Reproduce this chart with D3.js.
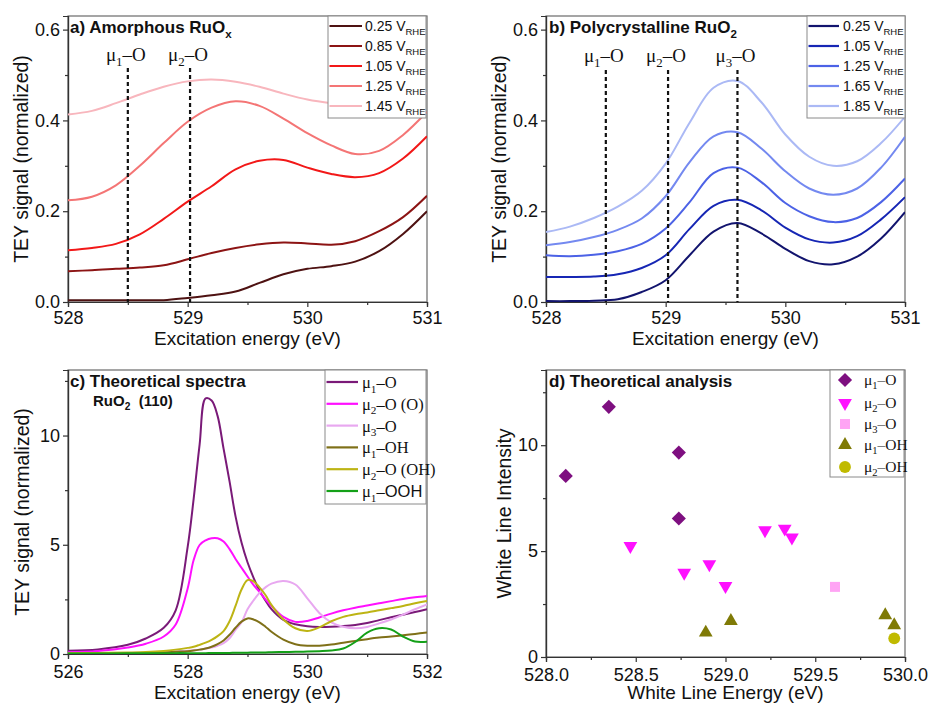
<!DOCTYPE html>
<html><head><meta charset="utf-8">
<script src="https://cdn.jsdelivr.net/npm/d3@7"></script>
<style>body{margin:0;background:#fff}svg{display:block}</style>
</head><body>
<svg id="chart" width="928" height="704"></svg>
<script>
// ---------- DATA ----------
const expEnergy = [528.0,528.2,528.4,528.6,528.8,529.0,529.2,529.4,529.6,529.8,530.0,530.2,530.4,530.6,530.8,531.0];
const amorphLabels = ["0.25","0.85","1.05","1.25","1.45"];
const amorph025 = [0.004,0.004,0.004,0.004,0.004,0.009,0.015,0.023,0.042,0.061,0.073,0.079,0.089,0.112,0.150,0.200];
const amorph085 = [0.068,0.070,0.073,0.076,0.081,0.094,0.108,0.119,0.127,0.131,0.129,0.126,0.134,0.156,0.187,0.234];
const amorph105 = [0.114,0.119,0.128,0.149,0.183,0.221,0.255,0.292,0.311,0.313,0.296,0.282,0.275,0.284,0.316,0.365];
const amorph125 = [0.224,0.232,0.257,0.300,0.350,0.397,0.428,0.442,0.432,0.404,0.372,0.345,0.326,0.333,0.368,0.419];
const amorph145 = [0.413,0.421,0.438,0.457,0.474,0.486,0.490,0.485,0.474,0.459,0.446,0.438,0.433,0.432,0.440,0.460];

const polyLabels = ["0.25","1.05","1.25","1.65","1.85"];
const poly025 = [0.002,0.002,0.003,0.006,0.022,0.048,0.103,0.155,0.174,0.151,0.117,0.090,0.083,0.100,0.140,0.198];
const poly105 = [0.055,0.055,0.056,0.061,0.075,0.103,0.161,0.212,0.225,0.202,0.164,0.138,0.131,0.145,0.182,0.231];
const poly125 = [0.103,0.101,0.104,0.112,0.128,0.162,0.220,0.284,0.296,0.264,0.218,0.189,0.176,0.185,0.220,0.272];
const poly165 = [0.125,0.132,0.143,0.159,0.184,0.233,0.308,0.365,0.374,0.338,0.288,0.250,0.236,0.250,0.296,0.364];
const poly185 = [0.154,0.166,0.185,0.210,0.245,0.305,0.395,0.472,0.487,0.440,0.369,0.320,0.300,0.310,0.350,0.408];

const markerA = [528.5, 529.02];
const markerB = [528.5, 529.02, 529.6];

const theoEnergy = [526,526.5,527,527.3,527.6,527.8,528.0,528.1,528.2,528.3,528.4,528.5,528.6,528.7,528.8,528.9,529.0,529.1,529.2,529.3,529.4,529.6,529.8,530.0,530.2,530.4,530.6,530.8,531.0,531.2,531.4,531.6,531.8,532];
const theoMu1O   = [0.15,0.21,0.42,0.71,1.2,2.0,4.9,7.1,9.6,11.7,11.6,10.9,9.4,7.9,6.3,5.1,4.2,3.5,2.9,2.45,2.05,1.56,1.36,1.27,1.24,1.25,1.28,1.33,1.42,1.55,1.68,1.8,1.92,2.05];
const theoMu2O_O = [0.08,0.14,0.3,0.47,0.8,1.35,3.0,4.3,4.99,5.2,5.3,5.3,5.15,4.8,4.35,3.95,3.55,3.16,2.85,2.5,2.2,1.7,1.47,1.51,1.67,1.85,2.0,2.12,2.22,2.32,2.42,2.52,2.6,2.66];
const theoMu3O   = [0.02,0.03,0.05,0.06,0.09,0.12,0.15,0.17,0.2,0.25,0.3,0.38,0.5,0.72,1.1,1.45,2.05,2.45,2.8,3.05,3.22,3.34,3.18,2.55,1.88,1.45,1.25,1.18,1.24,1.4,1.58,1.8,2.05,2.27];
const theoMu1OH  = [0.02,0.03,0.04,0.05,0.07,0.1,0.13,0.16,0.2,0.25,0.33,0.45,0.62,0.88,1.2,1.48,1.63,1.58,1.45,1.25,1.02,0.66,0.45,0.38,0.38,0.43,0.52,0.6,0.68,0.75,0.8,0.86,0.92,0.98];
const theoMu2O_OH= [0.03,0.05,0.07,0.09,0.14,0.2,0.28,0.33,0.42,0.52,0.65,0.82,1.05,1.5,2.2,2.95,3.38,3.33,3.05,2.7,2.25,1.58,1.18,1.05,1.22,1.5,1.7,1.82,1.9,2.0,2.1,2.2,2.32,2.43];
const theoMu1OOH = [0.02,0.02,0.03,0.03,0.03,0.04,0.04,0.04,0.04,0.04,0.05,0.05,0.05,0.05,0.06,0.06,0.06,0.07,0.07,0.07,0.08,0.09,0.1,0.11,0.13,0.16,0.25,0.55,0.98,1.18,1.12,0.8,0.57,0.56];

const mu1O_E  = [528.11,528.35,528.74,528.74];
const mu1O_I  = [8.55,11.81,9.65,6.54];
const mu2O_E  = [528.47,528.77,528.91,529.0,529.22,529.33,529.37];
const mu2O_I  = [5.24,3.98,4.38,3.35,5.98,6.06,5.64];
const mu3O_E  = [529.61];
const mu3O_I  = [3.31];
const mu1OH_E = [528.89,529.03,529.89,529.94];
const mu1OH_I = [1.15,1.7,1.97,1.5];
const mu2OH_E = [529.94];
const mu2OH_I = [0.88];

// ---------- HELPERS ----------
const svg = d3.select("#chart");
const SANS = "Liberation Sans, Arial, sans-serif";
const SERIF = "Liberation Serif, Times New Roman, serif";

function richText(sel, parts, size) {
  let shifted = false;
  parts.forEach(p => {
    const t = sel.append("tspan").text(p[0]);
    if (p[2]) t.attr("font-family", p[2]);
    if (p[1] === "sub") {
      t.attr("font-size", size * 0.68).attr("dy", shifted ? 0 : size * 0.28);
      shifted = true;
    } else {
      if (shifted) { t.attr("dy", -size * 0.28); shifted = false; }
    }
  });
}

function panel(opts) {
  const g = svg.append("g");
  const x = d3.scaleLinear().domain(opts.xDomain).range([opts.left, opts.right]);
  const y = d3.scaleLinear().domain(opts.yDomain).range([opts.bottom, opts.top]);
  g.append("rect").attr("x", opts.left).attr("y", opts.top)
    .attr("width", opts.right - opts.left).attr("height", opts.bottom - opts.top)
    .attr("fill", "none").attr("stroke", "#6a6a6a").attr("stroke-width", 1.2);
  const xa = g.append("g").attr("transform", `translate(0,${opts.bottom})`)
    .call(d3.axisBottom(x).tickValues(opts.xTicks).tickFormat(opts.xFmt).tickSize(5).tickPadding(opts.xPad));
  const xm = g.append("g").attr("transform", `translate(0,${opts.bottom})`)
    .call(d3.axisBottom(x).tickValues(opts.xMinor).tickFormat("").tickSize(3));
  const ya = g.append("g").attr("transform", `translate(${opts.left},0)`)
    .call(d3.axisLeft(y).tickValues(opts.yTicks).tickFormat(opts.yFmt).tickSize(5).tickPadding(3));
  const ym = g.append("g").attr("transform", `translate(${opts.left},0)`)
    .call(d3.axisLeft(y).tickValues(opts.yMinor).tickFormat("").tickSize(3));
  [xa, xm, ya, ym].forEach(a => {
    a.select(".domain").attr("stroke", "#333").attr("stroke-width", 1.2);
    a.selectAll(".tick line").attr("stroke", "#333").attr("stroke-width", 1.2);
    a.selectAll(".tick text").attr("font-family", SANS).attr("font-size", 18).attr("fill", "#111");
  });
  g.append("text").attr("x", (opts.left + opts.right) / 2).attr("y", opts.xTitleY)
    .attr("text-anchor", "middle").attr("font-family", SANS).attr("font-size", 19).attr("fill", "#111")
    .text(opts.xTitle);
  g.append("text").attr("transform", `translate(${opts.yTitleX},${(opts.top + opts.bottom) / 2}) rotate(-90)`)
    .attr("text-anchor", "middle").attr("font-family", SANS).attr("font-size", 19.5).attr("fill", "#111")
    .text(opts.yTitle);
  const clipId = "clip" + Math.round(opts.left) + "_" + Math.round(opts.top);
  g.append("clipPath").attr("id", clipId).append("rect")
    .attr("x", opts.left).attr("y", opts.top).attr("width", opts.right - opts.left).attr("height", opts.bottom - opts.top);
  const plot = g.append("g").attr("clip-path", `url(#${clipId})`);
  return {g, x, y, plot};
}

function drawLines(P, energy, series, width) {
  const line = d3.line().x((d, i) => P.x(energy[i])).y(d => P.y(d)).curve(d3.curveCatmullRom.alpha(0.5));
  series.forEach(s => {
    P.plot.append("path").datum(s.values).attr("d", line)
      .attr("fill", "none").attr("stroke", s.color).attr("stroke-width", width);
  });
}

function title(P, x, y, parts) {
  const t = P.g.append("text").attr("x", x).attr("y", y)
    .attr("font-family", SANS).attr("font-size", 17).attr("font-weight", "bold").attr("fill", "#111");
  richText(t, parts, 17);
}

function dashMarkers(P, energies, labels, topY, labelY) {
  energies.forEach((e, i) => {
    P.plot.append("line").attr("x1", P.x(e)).attr("x2", P.x(e)).attr("y1", topY).attr("y2", P.y(0))
      .attr("stroke", "#111").attr("stroke-width", 2.2).attr("stroke-dasharray", "4,3");
    const t = P.g.append("text").attr("x", P.x(e) - 2).attr("y", labelY).attr("text-anchor", "middle")
      .attr("font-family", SERIF).attr("font-size", 19).attr("fill", "#111");
    richText(t, [["μ"], [labels[i], "sub"], ["–O"]], 19);
  });
}

function lineLegend(P, box, rows, textX, font, fsize) {
  P.g.append("rect").attr("x", box[0]).attr("y", box[1]).attr("width", box[2] - box[0]).attr("height", box[3] - box[1])
    .attr("fill", "#fff").attr("stroke", "#8a8a8a").attr("stroke-width", 1);
  rows.forEach(r => {
    P.g.append("line").attr("x1", box[0] + 1.5).attr("x2", box[4]).attr("y1", r.y).attr("y2", r.y)
      .attr("stroke", r.color).attr("stroke-width", 2.2);
    const t = P.g.append("text").attr("x", textX).attr("y", r.y + fsize * 0.36)
      .attr("font-family", font).attr("font-size", fsize).attr("fill", "#111");
    richText(t, r.parts, fsize);
  });
}

// ---------- PANEL A ----------
const yTicksExp = [0, 0.2, 0.4, 0.6], yMinorExp = [0.1, 0.3, 0.5];
const PA = panel({left: 68, right: 427, top: 16, bottom: 302, xDomain: [528, 531], yDomain: [0, 0.63],
  xTicks: [528, 529, 530, 531], xMinor: [528.5, 529.5, 530.5], xFmt: d3.format("d"), xPad: 4,
  yTicks: yTicksExp, yMinor: yMinorExp, yFmt: d3.format(".1f"),
  xTitle: "Excitation energy (eV)", xTitleY: 345, yTitle: "TEY signal (normalized)", yTitleX: 28});
const amorphColors = ["#4e1212", "#8c1414", "#f21818", "#f47575", "#f8b6bd"];
const amorphSeries = [amorph025, amorph085, amorph105, amorph125, amorph145];
drawLines(PA, expEnergy, amorphSeries.map((v, i) => ({values: v, color: amorphColors[i]})), 2);
dashMarkers(PA, markerA, ["1", "2"], 68, 61);
title(PA, 70, 33, [["a) Amorphous RuO"], ["x", "sub"]]);
lineLegend(PA, [328, 16, 426, 118, 362], amorphLabels.map((l, i) => ({y: 26 + 20 * i, color: amorphColors[i],
  parts: [[l + " V"], ["RHE", "sub"]]})), 365, SANS, 14);

// ---------- PANEL B ----------
const PB = panel({left: 546, right: 905, top: 16, bottom: 302, xDomain: [528, 531], yDomain: [0, 0.63],
  xTicks: [528, 529, 530, 531], xMinor: [528.5, 529.5, 530.5], xFmt: d3.format("d"), xPad: 4,
  yTicks: yTicksExp, yMinor: yMinorExp, yFmt: d3.format(".1f"),
  xTitle: "Excitation energy (eV)", xTitleY: 345, yTitle: "TEY signal (normalized)", yTitleX: 506});
const polyColors = ["#12146e", "#1626b4", "#4c62e6", "#7489f0", "#abb9f5"];
const polySeries = [poly025, poly105, poly125, poly165, poly185];
drawLines(PB, expEnergy, polySeries.map((v, i) => ({values: v, color: polyColors[i]})), 2);
dashMarkers(PB, markerB, ["1", "2", "3"], 70, 62);
title(PB, 549, 33, [["b) Polycrystalline RuO"], ["2", "sub"]]);
lineLegend(PB, [807, 16, 905, 118, 839], polyLabels.map((l, i) => ({y: 26 + 20 * i, color: polyColors[i],
  parts: [[l + " V"], ["RHE", "sub"]]})), 843, SANS, 14);

// ---------- PANEL C ----------
const PC = panel({left: 68, right: 427, top: 370, bottom: 654, xDomain: [526, 532], yDomain: [0, 13],
  xTicks: [526, 528, 530, 532], xMinor: [527, 529, 531], xFmt: d3.format("d"), xPad: 6,
  yTicks: [0, 5, 10], yMinor: [2.5, 7.5, 12.5], yFmt: d3.format("d"),
  xTitle: "Excitation energy (eV)", xTitleY: 699, yTitle: "TEY signal (normalized)", yTitleX: 29});
const theoColors = ["#7a1a78", "#ff10ff", "#e8a8f0", "#7f7018", "#bdb414", "#14a018"];
const theoSeries = [theoMu1O, theoMu2O_O, theoMu3O, theoMu1OH, theoMu2O_OH, theoMu1OOH];
drawLines(PC, theoEnergy, theoSeries.map((v, i) => ({values: v, color: theoColors[i]})), 2);
title(PC, 70, 387, [["c) Theoretical spectra"]]);
{
  const t = PC.g.append("text").attr("x", 93).attr("y", 406).attr("font-family", SANS)
    .attr("font-size", 15).attr("font-weight", "bold").attr("fill", "#111");
  richText(t, [["RuO"], ["2", "sub"], ["\u00a0 (110)"]], 15);
}
const theoLegend = [
  [["μ"], ["1", "sub"], ["–O"]],
  [["μ"], ["2", "sub"], ["–O (O)"]],
  [["μ"], ["3", "sub"], ["–O"]],
  [["μ"], ["1", "sub"], ["–OH"]],
  [["μ"], ["2", "sub"], ["–O (OH)"]],
  [["μ"], ["1", "sub"], ["–"], ["OOH", null, SANS]]
];
lineLegend(PC, [325, 370, 426, 504, 358], theoLegend.map((p, i) => ({y: 382 + 21.8 * i, color: theoColors[i], parts: p})),
  362, SERIF, 16.5);

// ---------- PANEL D ----------
const PD = panel({left: 546, right: 905, top: 370, bottom: 657, xDomain: [528, 530], yDomain: [0, 13.55],
  xTicks: [528, 528.5, 529, 529.5, 530], xMinor: [528.25, 528.75, 529.25, 529.75], xFmt: d3.format(".1f"), xPad: 6,
  yTicks: [0, 5, 10], yMinor: [2.5, 7.5, 12.5], yFmt: d3.format("d"),
  xTitle: "White Line Energy (eV)", xTitleY: 699, yTitle: "White Line Intensity", yTitleX: 511});
const scatterGroups = [
  {E: mu1O_E, I: mu1O_I, color: "#7e0f80", type: d3.symbolSquare, size: 100, rot: 45, label: [["μ"], ["1", "sub"], ["–O"]]},
  {E: mu2O_E, I: mu2O_I, color: "#ff10ff", type: d3.symbolTriangle, size: 82, rot: 180, label: [["μ"], ["2", "sub"], ["–O"]]},
  {E: mu3O_E, I: mu3O_I, color: "#ffa4f4", type: d3.symbolSquare, size: 100, rot: 0, label: [["μ"], ["3", "sub"], ["–O"]]},
  {E: mu1OH_E, I: mu1OH_I, color: "#7f7a06", type: d3.symbolTriangle, size: 82, rot: 0, label: [["μ"], ["1", "sub"], ["–OH"]]},
  {E: mu2OH_E, I: mu2OH_I, color: "#c0ba00", type: d3.symbolCircle, size: 110, rot: 0, label: [["μ"], ["2", "sub"], ["–OH"]]}
];
scatterGroups.forEach(gp => {
  PD.plot.selectAll(null).data(gp.E).join("path")
    .attr("d", d3.symbol().type(gp.type).size(gp.size))
    .attr("transform", (d, i) => `translate(${PD.x(d)},${PD.y(gp.I[i])}) rotate(${gp.rot})`)
    .attr("fill", gp.color);
});
title(PD, 549, 387, [["d) Theoretical analysis"]]);
PD.g.append("rect").attr("x", 830).attr("y", 370).attr("width", 74).attr("height", 107)
  .attr("fill", "#fff").attr("stroke", "#8a8a8a").attr("stroke-width", 1);
scatterGroups.forEach((gp, i) => {
  const yy = [380, 403, 424, 445, 467][i];
  PD.g.append("path").attr("d", d3.symbol().type(gp.type).size(gp.size))
    .attr("transform", `translate(845,${yy}) rotate(${gp.rot})`).attr("fill", gp.color);
  const t = PD.g.append("text").attr("x", 864).attr("y", yy + 5).attr("font-family", SERIF)
    .attr("font-size", 15.5).attr("fill", "#111");
  richText(t, gp.label, 15.5);
});
</script>
</body></html>
